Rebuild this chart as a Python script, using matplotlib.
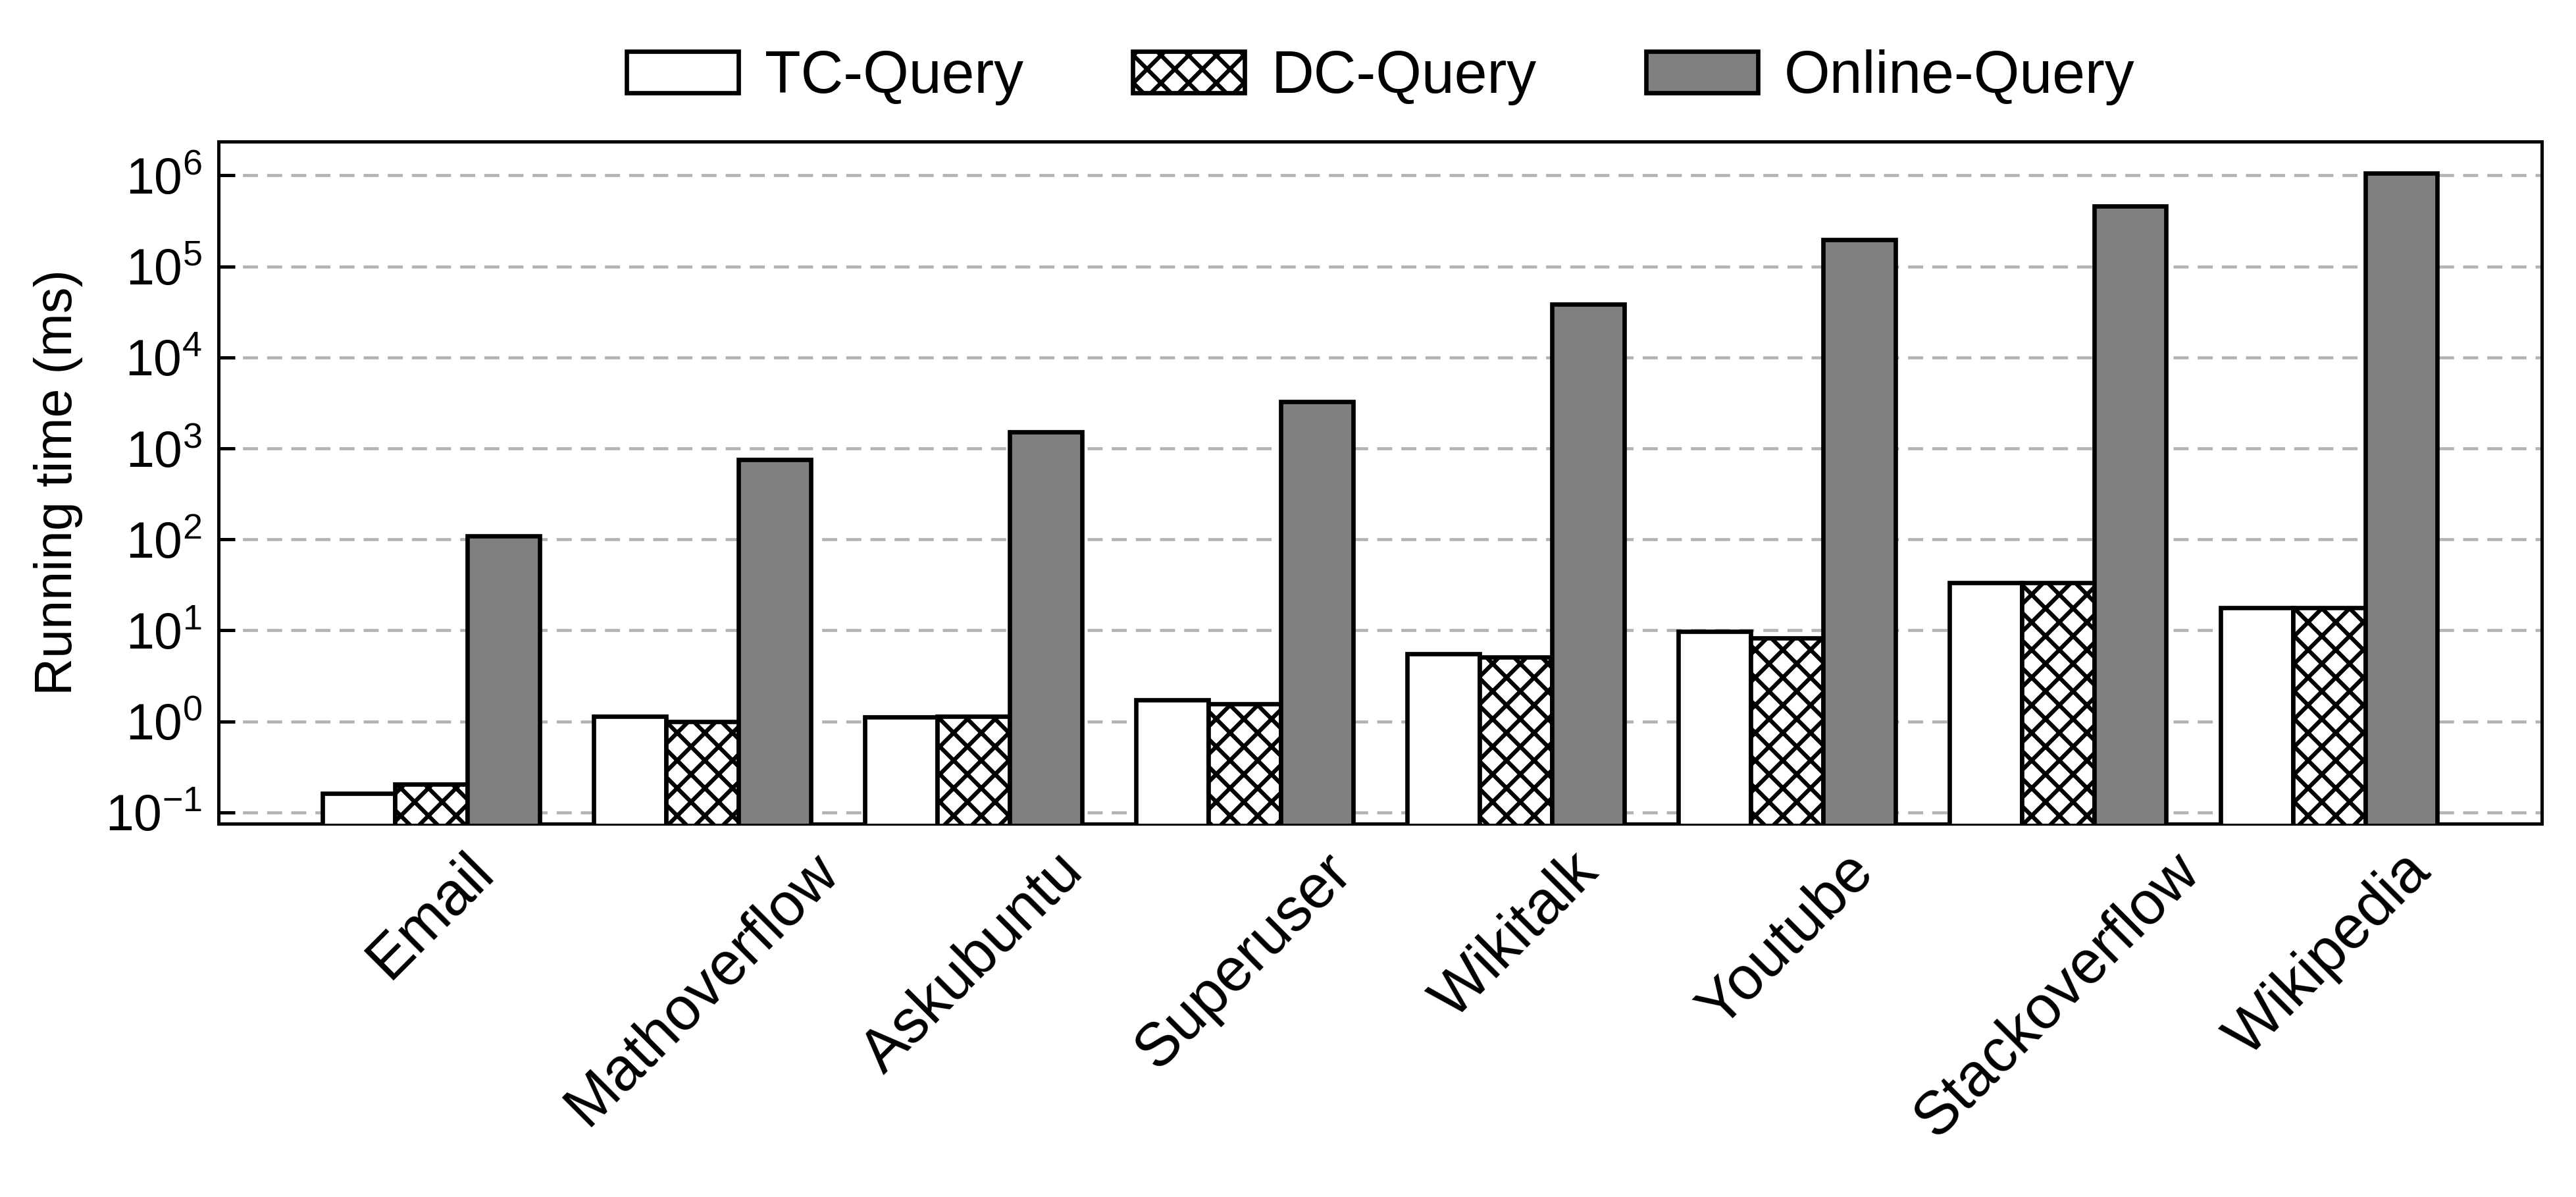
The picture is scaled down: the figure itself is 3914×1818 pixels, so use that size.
import numpy as np
import matplotlib
matplotlib.use('Agg')
import matplotlib.pyplot as plt

DPI = 252
S = 300 / DPI  # sizes below are tuned as points at 300 dpi

plt.rcParams['font.family'] = ['Liberation Sans', 'DejaVu Sans']
plt.rcParams['mathtext.fontset'] = 'custom'
plt.rcParams['mathtext.rm'] = 'Liberation Sans'
plt.rcParams['mathtext.it'] = 'Liberation Sans:italic'
plt.rcParams['mathtext.bf'] = 'Liberation Sans:bold'
plt.rcParams['hatch.linewidth'] = 1.5 * S

#! data (running time in ms)
datasets = ['Email', 'Mathoverflow', 'Askubuntu', 'Superuser',
            'Wikitalk', 'Youtube', 'Stackoverflow', 'Wikipedia']
tc_query = [0.161, 1.14, 1.11, 1.73, 5.5, 9.7, 33.7, 17.9]
dc_query = [0.204, 1.0, 1.13, 1.56, 5.08, 8.2, 33.7, 17.9]
online_query = [110, 755, 1525, 3260, 38400, 195000, 457000, 1060000]
series_labels = ['TC-Query', 'DC-Query', 'Online-Query']

#! plot
fig = plt.figure(figsize=(3914 / DPI, 1818 / DPI), dpi=DPI)
ax = fig.add_axes([0.0848, 0.3119, 0.9019, 0.5698])  # left, bottom, width, height

x = np.arange(len(datasets))
w = 0.8 / 3
styles = [dict(color='white', hatch=None),
          dict(color='white', hatch='xx'),
          dict(color='#808080', hatch=None)]

for k, (vals, lab, st) in enumerate(zip([tc_query, dc_query, online_query], series_labels, styles)):
    ax.bar(x + (k - 1) * w, vals, width=w, color=st['color'], hatch=st['hatch'],
           edgecolor='black', linewidth=1.6 * S, label=lab, zorder=3)

ax.set_yscale('log')
ax.set_ylim(0.0753, 2.35e6)
ax.set_xlim(-0.785, len(datasets) - 1 + 0.785)
ax.set_yticks([10.0**i for i in range(-1, 7)])
ax.minorticks_off()

ax.grid(axis='y', color='#b3b3b3', linestyle=(0, (5, 3)), linewidth=1.1 * S, zorder=0)
ax.set_axisbelow(True)

ax.set_xticks(x)
ax.set_xticklabels(datasets, rotation=45, ha='center', fontsize=22 * S)
ax.tick_params(axis='x', length=0, pad=7 * S)
ax.tick_params(axis='y', direction='in', length=6 * S, width=1.2 * S,
               labelsize=18.5 * S, pad=6 * S)

for sp in ax.spines.values():
    sp.set_linewidth(1.2 * S)

ax.set_ylabel('Running time (ms)', fontsize=19 * S, labelpad=8 * S)

fig.legend(loc='center', bbox_to_anchor=(0.536, 0.9356), ncol=3, frameon=False,
           fontsize=21.5 * S, handlelength=1.9, handletextpad=0.45, columnspacing=1.85)

plt.savefig('out.png', dpi=DPI)
